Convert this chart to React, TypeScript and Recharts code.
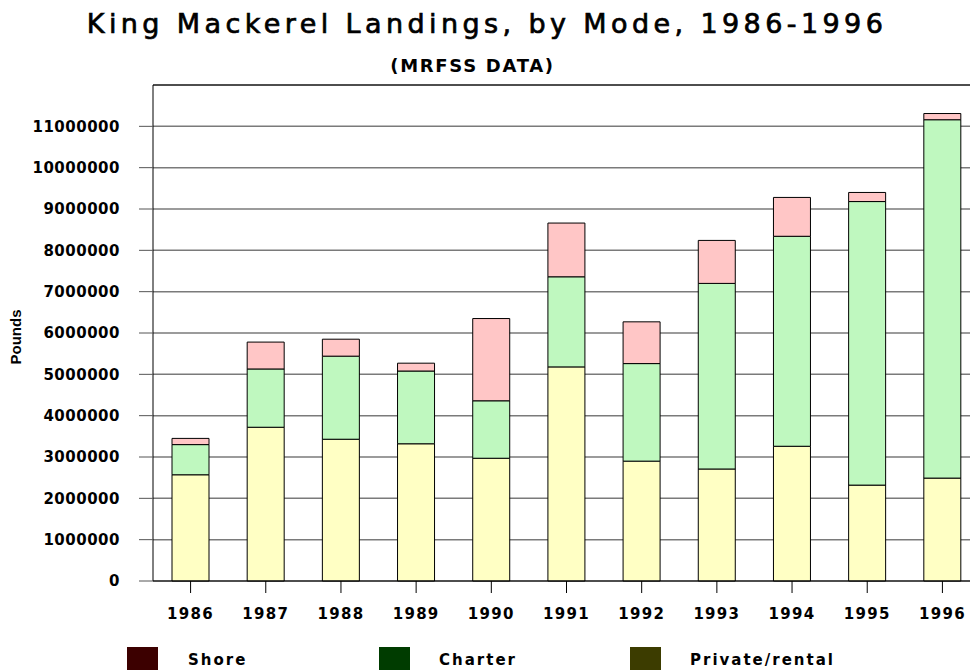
import React from "react";
import { BarChart, Bar, XAxis, YAxis, CartesianGrid, ReferenceLine } from "recharts";

const years = ["1986", "1987", "1988", "1989", "1990", "1991", "1992", "1993", "1994", "1995", "1996"];
const privateRental = [2570000, 3720000, 3430000, 3320000, 2970000, 5180000, 2900000, 2710000, 3260000, 2320000, 2490000];
const charter = [730000, 1410000, 2010000, 1760000, 1390000, 2180000, 2360000, 4490000, 5080000, 6860000, 8670000];
const shore = [150000, 650000, 410000, 190000, 1990000, 1300000, 1010000, 1040000, 940000, 220000, 150000];
const yTicks = [0, 1000000, 2000000, 3000000, 4000000, 5000000, 6000000, 7000000, 8000000, 9000000, 10000000, 11000000];

const data = years.map((y, i) => ({
  year: y,
  privateRental: privateRental[i],
  charter: charter[i],
  shore: shore[i],
}));

const FONT = "'DejaVu Sans', sans-serif";

const legendItems = [
  { label: "Shore", color: "#3c0000", sx: 127, tx: 188 },
  { label: "Charter", color: "#003c00", sx: 379, tx: 439 },
  { label: "Private/rental", color: "#3c3c00", sx: 630, tx: 690 },
];

export default function App() {
  return (
    <div style={{ position: "absolute", left: 0, top: 0, width: 970, height: 670, overflow: "hidden", background: "#fff", fontFamily: FONT }}>
      <div style={{ position: "absolute", left: 0, top: 8, width: 974, textAlign: "center", fontSize: 27, letterSpacing: 4.4, fontWeight: "normal", color: "#000", fontFamily: FONT, WebkitTextStroke: "0.7px #000", whiteSpace: "nowrap" }}>
        King Mackerel Landings, by Mode, 1986-1996
      </div>
      <div style={{ position: "absolute", left: 0, top: 55, width: 945, textAlign: "center", fontSize: 18, letterSpacing: 1.7, fontWeight: "bold", color: "#000", fontFamily: FONT, whiteSpace: "nowrap" }}>
        (MRFSS DATA)
      </div>
      <div style={{ position: "absolute", left: 15, top: 337, transform: "translate(-50%, -50%) rotate(-90deg)", fontSize: 15, fontWeight: "bold", fontFamily: "'Liberation Sans', Arial, sans-serif", whiteSpace: "nowrap" }}>
        Pounds
      </div>
      <div style={{ position: "absolute", left: 0, top: 0 }}>
        <BarChart width={990} height={670} data={data} margin={{ top: 85, right: 10, left: 0, bottom: 39 }} barSize={37}>
          <CartesianGrid vertical={false} stroke="#7a7a7a" strokeWidth={1.5} />
          <XAxis
            dataKey="year"
            height={50}
            tickSize={12}
            tickMargin={15}
            axisLine={{ stroke: "#000", strokeWidth: 1 }}
            tickLine={{ stroke: "#000" }}
            tick={{ fill: "#000", fontSize: 15, fontWeight: "bold", fontFamily: FONT, letterSpacing: 1.3 }}
          />
          <YAxis
            width={153}
            domain={[0, 12000000]}
            ticks={yTicks}
            interval={0}
            tickSize={14}
            tickMargin={19}
            axisLine={{ stroke: "#000", strokeWidth: 1 }}
            tickLine={{ stroke: "#555" }}
            tick={{ fill: "#000", fontSize: 15, fontWeight: "bold", fontFamily: FONT, letterSpacing: 0.5 }}
          />
          <Bar dataKey="privateRental" stackId="a" fill="#ffffc4" stroke="#000" strokeWidth={1} isAnimationActive={false} />
          <Bar dataKey="charter" stackId="a" fill="#bff8bf" stroke="#000" strokeWidth={1} isAnimationActive={false} />
          <Bar dataKey="shore" stackId="a" fill="#ffc6c6" stroke="#000" strokeWidth={1} isAnimationActive={false} />
          <ReferenceLine y={12000000} stroke="#000" strokeWidth={1} />
        </BarChart>
      </div>
      {legendItems.map((it) => (
        <React.Fragment key={it.label}>
          <div style={{ position: "absolute", left: it.sx, top: 647, width: 31, height: 23, background: it.color }} />
          <div style={{ position: "absolute", left: it.tx, top: 653, height: 15, lineHeight: "15px", fontSize: 15, letterSpacing: 2, fontWeight: "bold", fontFamily: FONT, whiteSpace: "nowrap" }}>
            {it.label}
          </div>
        </React.Fragment>
      ))}
    </div>
  );
}
